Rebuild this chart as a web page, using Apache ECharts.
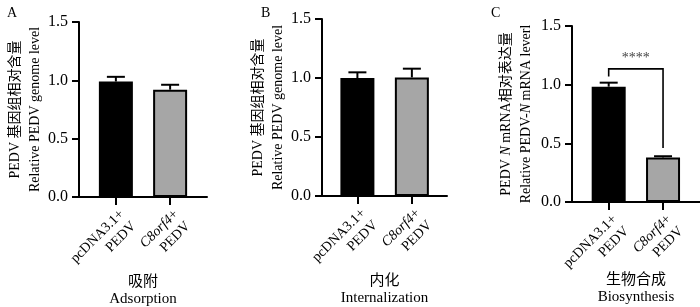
<!DOCTYPE html>
<html>
<head>
<meta charset="utf-8">
<script src="https://cdn.jsdelivr.net/npm/echarts@6/dist/echarts.min.js"></script>
<style>
  html, body { margin: 0; padding: 0; background: #fff; }
  #main { width: 700px; height: 307px; }
</style>
</head>
<body>
<div id="main"></div>
<script>
  // groups (x positions 0 and 1)
  var groups = ['pcDNA3.1+', 'C8orf4+'];
  var groupSub = 'PEDV';

  // values
  var adsorption = [0.99, 0.92];
  var adsorptionErr = [0.04, 0.042];
  var internalization = [1.0, 1.005];
  var internalizationErr = [0.048, 0.074];
  var biosynthesis = [0.983, 0.38];
  var biosynthesisErr = [0.034, 0.01];

  // significance bracket in panel C: [x1, y1, x2, y2, yTop]
  var sigBracket = [0, 1.07, 1, 0.46, 1.135];
  var sigText = '****';

  var barColors = ['#000000', '#a6a6a6'];
  var FONT = "'Liberation Serif','Times New Roman','Noto Sans CJK SC',serif";

  var panels = [
    { letter: 'A', data: adsorption, err: adsorptionErr,
      grid: { left: 79, top: 22, width: 128, height: 175 }, xr: [-0.68, 1.68],
      yName: 'PEDV 基因组相对含量\nRelative PEDV genome level', yGap: 34,
      xName: '吸附\nAdsorption', xGap: 77 },
    { letter: 'B', data: internalization, err: internalizationErr,
      grid: { left: 322, top: 19, width: 125, height: 177 }, xr: [-0.65, 1.645],
      yName: 'PEDV 基因组相对含量\nRelative PEDV genome level', yGap: 34,
      xName: '内化\nInternalization', xGap: 77 },
    { letter: 'C', data: biosynthesis, err: biosynthesisErr,
      grid: { left: 572, top: 26, width: 128, height: 176 }, xr: [-0.675, 1.68],
      yName: 'PEDV {i|N} mRNA相对表达量\nRelative PEDV-{i|N} mRNA leverl', yGap: 36,
      xName: '生物合成\nBiosynthesis', xGap: 70 }
  ];

  var chart = echarts.init(document.getElementById('main'));

  var grids = [], xAxes = [], yAxes = [], series = [], titles = [];

  panels.forEach(function (p, k) {
    grids.push(Object.assign({ containLabel: false, outerBoundsMode: 'none' }, p.grid));
    titles.push({
      text: p.letter,
      left: [2, 256, 486][k], top: 1,
      textStyle: { fontFamily: FONT, fontSize: 14, fontWeight: 'normal', color: '#000' }
    });
    xAxes.push({
      gridIndex: k,
      type: 'value',
      min: p.xr[0], max: p.xr[1],
      splitLine: { show: false },
      axisLine: { show: true, onZero: false, lineStyle: { color: '#000', width: 2 } },
      axisTick: { show: true, customValues: [0, 1], length: 8, lineStyle: { color: '#000', width: 2 } },
      axisLabel: {
        customValues: [0, 1],
        rotate: 45,
        align: 'right',
        verticalAlign: 'top',
        margin: 9,
        fontFamily: FONT, fontSize: 14, color: '#000', lineHeight: 17,
        formatter: function (v) {
          var i = Math.round(v);
          var name = groups[i];
          if (name.indexOf('C8orf4') === 0) {
            return '{i|C8orf4}+\n' + groupSub;
          }
          return name + '\n' + groupSub;
        },
        rich: { i: { fontFamily: FONT, fontSize: 14, fontStyle: 'italic', color: '#000' } }
      },
      name: p.xName,
      nameLocation: 'middle',
      nameGap: p.xGap,
      nameMoveOverlap: false,
      nameTextStyle: { fontFamily: FONT, fontSize: 15, color: '#000', lineHeight: 17, verticalAlign: 'top' }
    });
    yAxes.push({
      gridIndex: k,
      type: 'value',
      min: 0, max: 1.5, interval: 0.5,
      splitLine: { show: false },
      axisLine: { show: true, onZero: false, lineStyle: { color: '#000', width: 2 } },
      axisTick: { show: true, length: 7, lineStyle: { color: '#000', width: 2 } },
      axisLabel: {
        margin: 11,
        fontFamily: FONT, fontSize: 16, color: '#000',
        formatter: function (v) { return v.toFixed(1); }
      },
      name: p.yName,
      nameLocation: 'middle',
      nameGap: p.yGap,
      nameMoveOverlap: false,
      nameTextStyle: {
        fontFamily: FONT, fontSize: 14, color: '#000', lineHeight: 20,
        rich: { i: { fontFamily: FONT, fontSize: 14, fontStyle: 'italic', color: '#000' } }
      }
    });

    series.push({
      type: 'bar',
      xAxisIndex: k, yAxisIndex: k,
      barWidth: 34,
      data: p.data.map(function (v, i) {
        return { value: [i, v], itemStyle: { color: barColors[i], borderColor: '#000', borderWidth: 2 } };
      }),
      animation: false
    });

    series.push({
      type: 'custom',
      xAxisIndex: k, yAxisIndex: k,
      data: p.data.map(function (v, i) { return [i, v, v + p.err[i]]; }),
      renderItem: function (params, api) {
        var a = api.coord([api.value(0), api.value(1)]);
        var b = api.coord([api.value(0), api.value(2)]);
        var st = { stroke: '#000', lineWidth: 2 };
        return {
          type: 'group',
          children: [
            { type: 'line', shape: { x1: a[0], y1: a[1], x2: b[0], y2: b[1] }, style: st },
            { type: 'line', shape: { x1: b[0] - 9, y1: b[1], x2: b[0] + 9, y2: b[1] }, style: st }
          ]
        };
      },
      z: 3,
      animation: false
    });
  });

  // significance bracket for panel C
  series.push({
    type: 'custom',
    xAxisIndex: 2, yAxisIndex: 2,
    data: [sigBracket],
    renderItem: function (params, api) {
      var p1 = api.coord([api.value(0), api.value(1)]);
      var p2 = api.coord([api.value(2), api.value(3)]);
      var t1 = api.coord([api.value(0), api.value(4)]);
      var t2 = api.coord([api.value(2), api.value(4)]);
      return {
        type: 'group',
        children: [
          { type: 'polyline', shape: { points: [p1, t1, t2, p2] },
            style: { stroke: '#000', lineWidth: 1.6, fill: null } },
          { type: 'text', style: {
              text: sigText, x: (t1[0] + t2[0]) / 2, y: t1[1] - 3,
              align: 'center', verticalAlign: 'bottom',
              font: '14px ' + FONT, fill: '#444' } }
        ]
      };
    },
    z: 4,
    animation: false
  });

  chart.setOption({
    animation: false,
    title: titles,
    grid: grids,
    xAxis: xAxes,
    yAxis: yAxes,
    series: series
  });
</script>
</body>
</html>
